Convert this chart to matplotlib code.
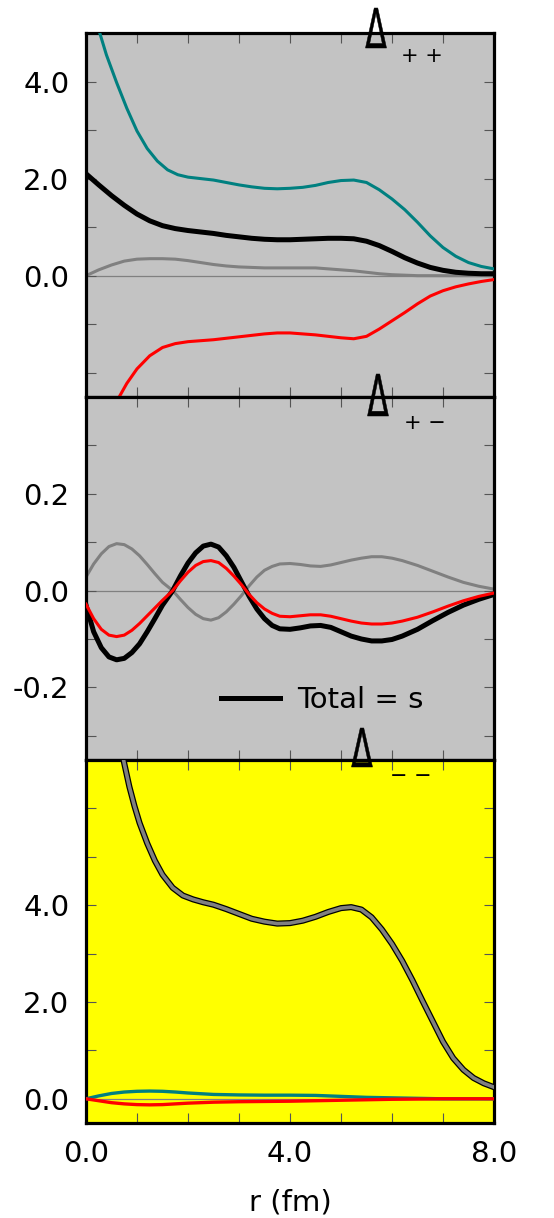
import matplotlib
matplotlib.use('Agg')
import matplotlib.pyplot as plt
from matplotlib.lines import Line2D
from matplotlib.textpath import TextPath
from matplotlib.patches import PathPatch
from matplotlib.font_manager import FontProperties
from matplotlib.transforms import Affine2D

# ---- data ----
# top panel (Delta ++)
r_pp_teal = [0.2, 0.27, 0.4, 0.6, 0.8, 1.0, 1.2, 1.4, 1.6, 1.8, 2.0, 2.25, 2.5, 2.75, 3.0, 3.25,
             3.5, 3.75, 4.0, 4.25, 4.5, 4.75, 5.0, 5.25, 5.5, 5.75, 6.0, 6.25, 6.5, 6.75, 7.0,
             7.25, 7.5, 7.75, 8.0]
pp_teal = [5.35, 5.0, 4.55, 3.98, 3.45, 2.98, 2.62, 2.36, 2.18, 2.08, 2.03, 2.0, 1.97, 1.92, 1.87,
           1.83, 1.80, 1.79, 1.80, 1.82, 1.86, 1.92, 1.96, 1.97, 1.92, 1.77, 1.58, 1.36, 1.10,
           0.82, 0.58, 0.40, 0.27, 0.19, 0.14]

r_pp = [0.0, 0.25, 0.5, 0.75, 1.0, 1.25, 1.5, 1.75, 2.0, 2.25, 2.5, 2.75, 3.0, 3.25, 3.5, 3.75,
        4.0, 4.25, 4.5, 4.75, 5.0, 5.25, 5.5, 5.75, 6.0, 6.25, 6.5, 6.75, 7.0, 7.25, 7.5, 7.75, 8.0]
pp_total = [2.10, 1.87, 1.65, 1.45, 1.27, 1.13, 1.03, 0.97, 0.93, 0.90, 0.87, 0.83, 0.80, 0.77,
            0.75, 0.74, 0.74, 0.75, 0.76, 0.77, 0.77, 0.76, 0.71, 0.62, 0.50, 0.37, 0.26, 0.17,
            0.11, 0.07, 0.05, 0.04, 0.04]
pp_gray = [0.0, 0.12, 0.22, 0.30, 0.34, 0.35, 0.35, 0.34, 0.31, 0.27, 0.23, 0.20, 0.18, 0.17,
           0.16, 0.16, 0.16, 0.16, 0.16, 0.14, 0.12, 0.10, 0.07, 0.04, 0.02, 0.01, 0.0, 0.0,
           0.0, 0.0, 0.0, 0.0, 0.0]

r_pp_red = [0.6, 0.65, 0.8, 1.0, 1.25, 1.5, 1.75, 2.0, 2.5, 3.0, 3.5, 3.75, 4.0, 4.5, 5.0, 5.25,
            5.5, 5.75, 6.0, 6.25, 6.5, 6.75, 7.0, 7.25, 7.5, 7.75, 8.0]
pp_red = [-2.6, -2.5, -2.22, -1.92, -1.65, -1.48, -1.40, -1.36, -1.32, -1.26, -1.20, -1.18,
          -1.18, -1.22, -1.28, -1.30, -1.25, -1.10, -0.93, -0.76, -0.58, -0.42, -0.31, -0.23,
          -0.17, -0.12, -0.08]

# middle panel (Delta +-)
r_pm = [0.0, 0.15, 0.3, 0.45, 0.6, 0.75, 0.9, 1.05, 1.2, 1.35, 1.5, 1.7, 1.85, 2.0, 2.15, 2.3,
        2.45, 2.6, 2.75, 2.9, 3.05, 3.2, 3.35, 3.5, 3.65, 3.8, 4.0, 4.2, 4.4, 4.6, 4.8, 5.0,
        5.2, 5.4, 5.6, 5.8, 6.0, 6.2, 6.5, 6.8, 7.1, 7.4, 7.7, 8.0]
pm_total = [-0.03, -0.085, -0.118, -0.137, -0.143, -0.140, -0.128, -0.110, -0.085, -0.058,
            -0.030, 0.0, 0.030, 0.057, 0.078, 0.092, 0.096, 0.090, 0.072, 0.048, 0.018, -0.012,
            -0.038, -0.058, -0.072, -0.079, -0.080, -0.077, -0.073, -0.072, -0.076, -0.085,
            -0.094, -0.100, -0.104, -0.104, -0.101, -0.094, -0.080, -0.062, -0.045, -0.030,
            -0.018, -0.008]
pm_red = [-0.028, -0.058, -0.080, -0.092, -0.095, -0.092, -0.082, -0.068, -0.052, -0.036,
          -0.020, 0.0, 0.020, 0.038, 0.052, 0.060, 0.062, 0.058, 0.046, 0.030, 0.012, -0.008,
          -0.025, -0.038, -0.047, -0.053, -0.054, -0.052, -0.050, -0.050, -0.053, -0.058,
          -0.063, -0.067, -0.069, -0.069, -0.067, -0.063, -0.055, -0.044, -0.032, -0.021,
          -0.012, -0.005]
pm_gray = [0.028, 0.055, 0.076, 0.091, 0.097, 0.095, 0.086, 0.072, 0.054, 0.035, 0.017, 0.0,
           -0.018, -0.035, -0.049, -0.058, -0.061, -0.056, -0.044, -0.028, -0.010, 0.010,
           0.028, 0.042, 0.050, 0.055, 0.056, 0.054, 0.051, 0.050, 0.053, 0.058, 0.063, 0.067,
           0.070, 0.070, 0.067, 0.062, 0.052, 0.040, 0.028, 0.017, 0.009, 0.003]

# bottom panel (Delta --)
r_mm_total = [0.7, 0.75, 0.85, 0.95, 1.05, 1.2, 1.35, 1.5, 1.7, 1.9, 2.1, 2.3, 2.5, 2.75, 3.0,
              3.25, 3.5, 3.75, 4.0, 4.25, 4.5, 4.75, 5.0, 5.2, 5.4, 5.6, 5.8, 6.0, 6.2, 6.4,
              6.6, 6.8, 7.0, 7.2, 7.4, 7.6, 7.8, 8.0]
mm_total = [7.2, 6.93, 6.45, 6.05, 5.7, 5.28, 4.92, 4.63, 4.36, 4.2, 4.12, 4.06, 4.01, 3.92,
            3.82, 3.72, 3.66, 3.62, 3.63, 3.68, 3.76, 3.86, 3.94, 3.96, 3.91, 3.75, 3.5, 3.2,
            2.85, 2.45, 2.02, 1.6, 1.18, 0.84, 0.6, 0.43, 0.32, 0.24]
r_mm = [0.0, 0.25, 0.5, 0.75, 1.0, 1.25, 1.5, 1.75, 2.0, 2.5, 3.0, 3.5, 4.0, 4.5, 5.0, 5.5,
        6.0, 7.0, 8.0]
mm_teal = [0.0, 0.06, 0.11, 0.14, 0.155, 0.16, 0.155, 0.14, 0.12, 0.09, 0.08, 0.075, 0.075,
           0.07, 0.05, 0.03, 0.02, 0.0, 0.0]
mm_red = [0.0, -0.04, -0.08, -0.105, -0.12, -0.125, -0.12, -0.105, -0.09, -0.07, -0.06, -0.055,
          -0.05, -0.04, -0.03, -0.02, -0.01, 0.0, 0.0]

x_ticks = [0, 1, 2, 3, 4, 5, 6, 7, 8]
x_labels = ['0.0', '', '', '', '4.0', '', '', '', '8.0']

W, H = 554, 1218
TEAL = '#008080'
GRAY = '#808080'
RED = '#ff0000'
BG = '#c3c3c3'

plt.rcParams['font.family'] = 'DejaVu Sans'
fig = plt.figure(figsize=(W / 100, H / 100), dpi=100)

left, width = 86 / W, 408 / W


def make_ax(top_px, bot_px, color):
    ax = fig.add_axes([left, 1 - bot_px / H, width, (bot_px - top_px) / H])
    ax.set_facecolor(color)
    ax.set_xlim(0, 8)
    ax.set_xticks(x_ticks)
    ax.tick_params(direction='in', length=7, width=0.8, color='#555555',
                   top=True, right=True, labelsize=21, pad=12)
    for s in ax.spines.values():
        s.set_linewidth(2.3)
    ax.axhline(0, color=GRAY, lw=0.9, zorder=1)
    return ax


ax1 = make_ax(33, 397, BG)
ax1.set_ylim(-2.5, 5.0)
ax1.set_yticks([-2, -1, 0, 1, 2, 3, 4])
ax1.set_yticklabels(['', '', '0.0', '', '2.0', '', '4.0'])
ax1.set_xticklabels([])
ax1.plot(r_pp, pp_gray, color=GRAY, lw=2.2, zorder=2)
ax1.plot(r_pp, pp_total, color='black', lw=3.6, zorder=3)
ax1.plot(r_pp_teal, pp_teal, color=TEAL, lw=2.2, zorder=4)
ax1.plot(r_pp_red, pp_red, color=RED, lw=2.2, zorder=4)

ax2 = make_ax(397, 760, BG)
ax2.set_ylim(-0.35, 0.4)
ax2.set_yticks([-0.3, -0.2, -0.1, 0.0, 0.1, 0.2, 0.3])
ax2.set_yticklabels(['', '-0.2', '', '0.0', '', '0.2', ''])
ax2.set_xticklabels([])
ax2.plot(r_pm, pm_gray, color=GRAY, lw=2.2, zorder=2)
ax2.plot(r_pm, pm_total, color='black', lw=3.6, zorder=3)
ax2.plot(r_pm, pm_red, color=RED, lw=2.2, zorder=4)
ax2.legend(handles=[Line2D([], [], color='black', lw=3.6)], labels=['Total = s'],
           loc='center left', bbox_to_anchor=(0.332, 0.165), frameon=False, fontsize=21,
           handlelength=2.0, handletextpad=0.6, borderpad=0, borderaxespad=0)

ax3 = make_ax(760, 1123, 'yellow')
ax3.set_ylim(-0.5, 7.0)
ax3.set_yticks([0, 1, 2, 3, 4, 5, 6])
ax3.set_yticklabels(['0.0', '', '2.0', '', '4.0', '', ''])
ax3.set_xticklabels(x_labels)
ax3.plot(r_mm_total, mm_total, color='black', lw=4.4, zorder=2)
ax3.plot(r_mm_total, mm_total, color=GRAY, lw=2.6, zorder=3)
ax3.plot(r_mm, mm_teal, color=TEAL, lw=2.4, zorder=4)
ax3.plot(r_mm, mm_red, color=RED, lw=2.4, zorder=5)
ax3.set_xlabel('r (fm)', fontsize=21, labelpad=15)

# tall narrow Delta labels with their subscripts
to_fig = Affine2D().scale(1 / W, 1 / H) + fig.transFigure
tp = TextPath((0, 0), '\u0394', size=1, prop=FontProperties(family='DejaVu Sans'))
bb = tp.get_extents()


def delta(cx, y_top, y_base, sub, sx, sy):
    h = y_base - y_top
    tr = (Affine2D().translate(-bb.x0 - bb.width / 2, -bb.y0)
          .scale(21 / bb.width, h / bb.height).translate(cx, H - y_base))
    fig.add_artist(PathPatch(tr.transform_path(tp), facecolor='black', edgecolor='black',
                             lw=0.35, transform=to_fig, zorder=10))
    fig.text(sx / W, 1 - sy / H, sub, fontsize=15, ha='center', va='center', zorder=10)


delta(376, 8, 48, '+ +', 422, 56)
delta(378, 374, 416, '+ \u2212', 425, 423)
delta(362, 728, 767, '\u2212 \u2212', 411, 776)

fig.savefig('out.png', dpi=100)
